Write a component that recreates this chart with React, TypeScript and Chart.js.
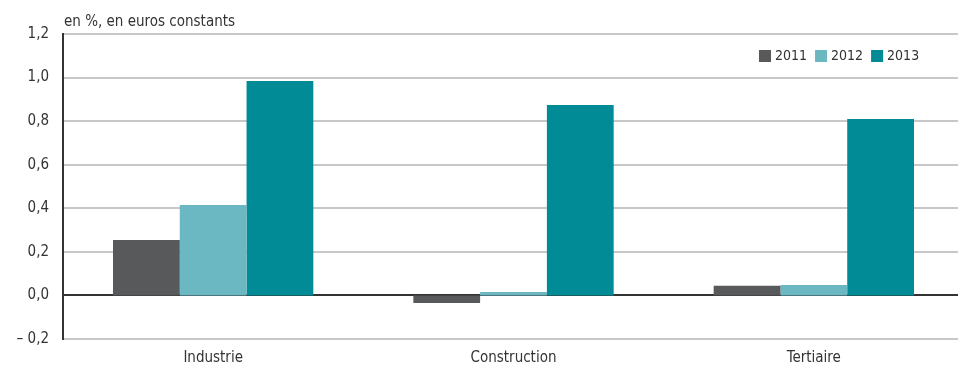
import React, { useEffect, useRef } from "react";
import { Chart, registerables } from "chart.js";

Chart.register(...registerables);

const categories = ["Industrie", "Construction", "Tertiaire"];
const seriesLabels = ["2011", "2012", "2013"];
const values2011 = [0.255, -0.035, 0.044];
const values2012 = [0.415, 0.016, 0.048];
const values2013 = [0.984, 0.874, 0.81];
const seriesColors = ["#58595b", "#6bb8c3", "#008b96"];
const unitLabel = "en %, en euros constants";

const FONT = "'DejaVu Sans Condensed', 'Liberation Sans', sans-serif";

function fmt(v: number): string {
  const s = Math.abs(v).toFixed(1).replace(".", ",");
  if (v < -1e-9) return "\u2013 " + s;
  return s;
}

const unitPlugin = {
  id: "unitLabel",
  afterDraw(chart: any) {
    const { ctx, chartArea } = chart;
    ctx.save();
    ctx.font = `15px ${FONT}`;
    ctx.fillStyle = "#333333";
    ctx.textAlign = "left";
    ctx.textBaseline = "alphabetic";
    ctx.fillText(unitLabel, chartArea.left + 1, chartArea.top - 8);
    ctx.restore();
  },
};

const legendPlugin = {
  id: "customLegend",
  afterDraw(chart: any) {
    const { ctx, chartArea } = chart;
    const startX = 759;
    const boxTop = chartArea.top + 16;
    ctx.save();
    ctx.font = `14px ${FONT}`;
    ctx.textAlign = "left";
    ctx.textBaseline = "middle";
    let x = startX;
    chart.data.datasets.forEach((ds: any) => {
      ctx.fillStyle = ds.backgroundColor;
      ctx.fillRect(x, boxTop, 12, 12);
      ctx.fillStyle = "#333333";
      ctx.fillText(ds.label, x + 16, boxTop + 6.5);
      x += 16 + ctx.measureText(ds.label).width + 8;
    });
    ctx.restore();
  },
};

export default function App() {
  const ref = useRef<HTMLCanvasElement | null>(null);
  useEffect(() => {
    document.body.style.margin = "0";
    const canvas = ref.current!;
    const data = [values2011, values2012, values2013];
    const chart = new Chart(canvas, {
      type: "bar",
      data: {
        labels: categories,
        datasets: seriesLabels.map((l, i) => ({
          label: l,
          data: data[i],
          backgroundColor: seriesColors[i],
          borderWidth: 0,
          categoryPercentage: 0.667,
          barPercentage: 1,
        })),
      },
      options: {
        animation: false,
        responsive: false,
        maintainAspectRatio: false,
        layout: { padding: { top: 34, right: 0, left: 0, bottom: 0 } },
        plugins: {
          tooltip: { enabled: false },
          legend: { display: false },
        },
        scales: {
          x: {
            grid: { display: false },
            border: { display: false },
            ticks: { color: "#333333", font: { family: FONT, size: 15 }, padding: 2 },
            afterFit: (s: any) => { s.height = 27; },
          },
          y: {
            min: -0.2,
            max: 1.2,
            ticks: {
              stepSize: 0.2,
              color: "#333333",
              padding: 14,
              font: { family: FONT, size: 15 },
              callback: (v: any) => fmt(Number(v)),
            },
            grid: {
              color: (c: any) => (Math.abs(c.tick.value) < 1e-9 ? "#333333" : "#c8c8c8"),
              lineWidth: 2,
              drawTicks: false,
            },
            border: { display: true, color: "#333333", width: 2 },
            afterFit: (s: any) => { s.width = 63; },
          },
        },
      },
      plugins: [unitPlugin, legendPlugin],
    });
    return () => chart.destroy();
  }, []);
  return (
    <div style={{ width: 958, height: 366, overflow: "hidden" }}>
      <canvas ref={ref} width={964} height={366} style={{ display: "block" }} />
    </div>
  );
}
